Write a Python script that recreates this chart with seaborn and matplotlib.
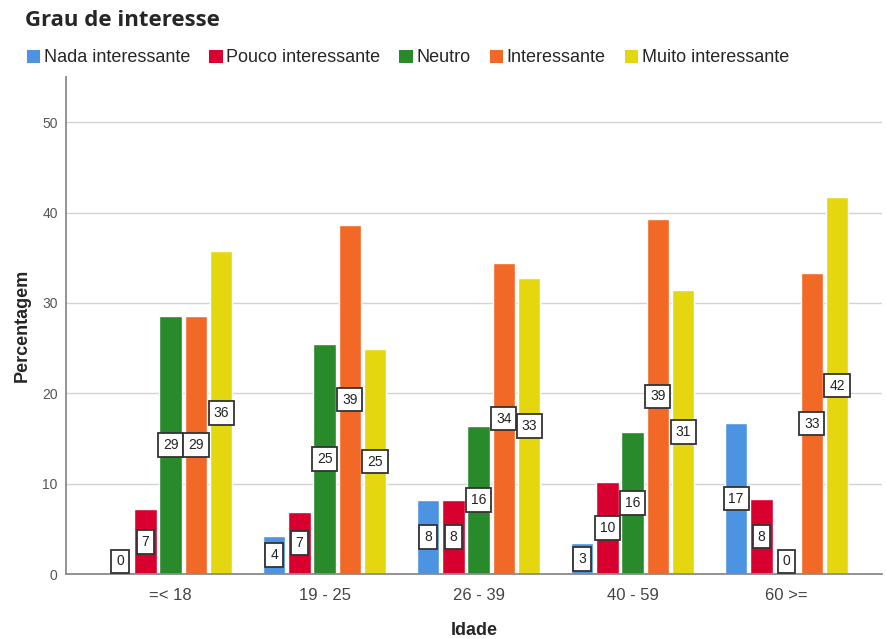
import matplotlib
matplotlib.use("Agg")
import matplotlib.pyplot as plt
from matplotlib.patches import Patch
import pandas as pd
import seaborn as sns

# Age groups and interest levels
idades = ["=< 18", "19 - 25", "26 - 39", "40 - 59", "60 >="]
niveis = ["Nada interessante", "Pouco interessante", "Neutro",
          "Interessante", "Muito interessante"]

# Percentages per age group, one list per interest level
nada = [0.0, 4.2, 8.2, 3.4, 16.7]
pouco = [7.14, 6.9, 8.2, 10.2, 8.3]
neutro = [28.57, 25.4, 16.4, 15.7, 0.0]
interessante = [28.57, 38.6, 34.4, 39.3, 33.3]
muito = [35.71, 24.9, 32.8, 31.4, 41.7]

cores = ["#4C93E2", "#D8002E", "#288A2A", "#F26827", "#E4D710"]

series = [nada, pouco, neutro, interessante, muito]
rows = []
for nivel, vals in zip(niveis, series):
    for idade, v in zip(idades, vals):
        rows.append({"Idade": idade, "Grau": nivel, "Percentagem": v})
df = pd.DataFrame(rows)

sns.set_theme(style="white")
plt.rcParams["font.family"] = ["Liberation Sans", "DejaVu Sans"]

fig = plt.figure(figsize=(8.87, 6.39), dpi=100)
ax = fig.add_axes([0.0744, 0.1017, 0.92, 0.7778])

sns.barplot(data=df, x="Idade", y="Percentagem", hue="Grau",
            order=idades, hue_order=niveis, palette=cores,
            width=0.82, gap=0.11, saturation=1, legend=False, ax=ax)

ax.set_ylim(0, 55)
ax.set_xlim(-0.68, 4.62)
ax.set_yticks([0, 10, 20, 30, 40, 50])
ax.yaxis.grid(True, color="#d3d3d3", linewidth=1.0)
ax.set_axisbelow(True)
for s in ["top", "right"]:
    ax.spines[s].set_visible(False)
for s in ["left", "bottom"]:
    ax.spines[s].set_color("#8a8a8a")
    ax.spines[s].set_linewidth(1.3)
ax.tick_params(axis="both", length=0)
ax.tick_params(axis="y", labelsize=10, labelcolor="#555555", pad=6)
ax.tick_params(axis="x", labelsize=12, labelcolor="#444444", pad=10)

ax.set_ylabel("Percentagem", fontsize=13, fontweight="bold", labelpad=8)
ax.set_xlabel("Idade", fontsize=13, fontweight="bold", labelpad=14)

# value labels in white boxes at mid-height of each bar
for cont, vals in zip(ax.containers, series):
    for bar, v in zip(cont, vals):
        xc = bar.get_x() + bar.get_width() / 2
        yc = max(v / 2, 1.4)
        ax.text(xc, yc, f"{int(round(v))}", ha="center", va="center",
                fontsize=10, color="#222222",
                bbox=dict(boxstyle="square,pad=0.35", facecolor="white",
                          edgecolor="#333333", linewidth=1.3))

handles = [Patch(facecolor=c, edgecolor="none", label=n)
           for c, n in zip(cores, niveis)]
fig.legend(handles=handles, loc="center left", ncol=5,
           bbox_to_anchor=(0.022, 1 - 58 / 639), frameon=False,
           fontsize=13, handlelength=0.75, handleheight=0.75,
           handletextpad=0.2, columnspacing=1.05, borderaxespad=0)

fig.text(25 / 887, 1 - 20 / 639, "Grau de interesse", fontsize=16,
         fontweight="bold", family=["Open Sans", "DejaVu Sans"],
         ha="left", va="center")

fig.savefig("out.png", dpi=100)
